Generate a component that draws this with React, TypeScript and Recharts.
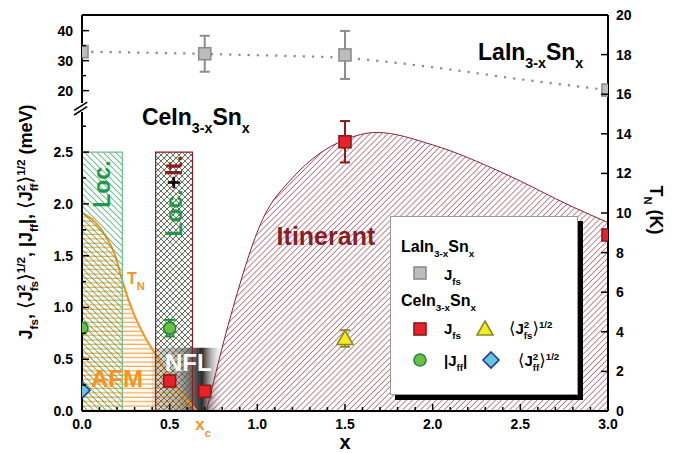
import React from "react";
import {
  ComposedChart,
  XAxis,
  YAxis,
  Scatter,
  Line,
  Area,
  ReferenceArea,
  ReferenceLine,
  ErrorBar,
  Legend,
} from "recharts";

const FONT = "'Liberation Sans', Arial, Helvetica, sans-serif";
const ORANGE = "#f7931e";
const GREEN = "#1f9a4a";
const DARKRED = "#8c1c25";

// LaIn3-xSnx, J_fs (meV) - plotted on the upper (broken) part of the left axis
const laX = [0, 0.7, 1.5, 3.0];
const laJfs = [33.0, 32.3, 31.9, 20.2];
const laErr = [null, 6, 8, null];
const laFitX = [0, 0.5, 1.0, 1.5, 2.0, 2.5, 3.0];
const laFitJ = [33.0, 32.5, 31.8, 30.9, 27.8, 23.8, 20.2];

// CeIn3-xSnx (meV)
const ceJfsX = [0.5, 0.7, 1.5, 3.0];
const ceJfs = [0.29, 0.19, 2.6, 1.7];
const ceJfsErr = [null, null, 0.2, null];
const ceJffX = [0, 0.5];
const ceJff = [0.8, 0.8];
const ceJffErr = [null, 0.08];
const ceJfsRmsX = [1.5];
const ceJfsRms = [0.7];
const ceJfsRmsErr = [0.08];
const ceJffRmsX = [0];
const ceJffRms = [0.2];

// Neel temperature T_N (K, right axis)
const tnX = [0, 0.074, 0.131, 0.188, 0.234, 0.291, 0.359, 0.433, 0.502, 0.576, 0.656];
const tnK = [10.0, 9.55, 8.89, 7.88, 6.46, 5.0, 3.74, 2.68, 1.72, 0.81, 0];

// itinerant region boundary (meV)
const itinX = [0.71, 0.85, 1.03, 1.2, 1.35, 1.5, 1.68, 2.0, 2.4, 2.8, 3.0];
const itinJ = [0, 0.93, 1.85, 2.25, 2.48, 2.62, 2.69, 2.57, 2.3, 1.97, 1.82];

// shaded regions (x ranges, meV tops)
const locRange = [0, 0.23];
const locItRange = [0.42, 0.63];
const regionTop = 2.5;
const nflRange = [0.4, 0.82];
const nflTop = 0.61;
const xcTick = 0.69;

// ticks
const xMajor = [0, 0.5, 1, 1.5, 2, 2.5, 3];
const xMinor = [0.1, 0.2, 0.3, 0.4, 0.6, 0.7, 0.8, 0.9, 1.1, 1.2, 1.3, 1.4, 1.6, 1.7, 1.8, 1.9, 2.1, 2.2, 2.3, 2.4, 2.6, 2.7, 2.8, 2.9];
const lowMajor = [0, 0.5, 1, 1.5, 2, 2.5];
const lowMinor = [0.25, 0.75, 1.25, 1.75, 2.25, 2.75];
const highMajor = [20, 30, 40];
const highMinor = [25, 35];
const tnTicks = [0, 2, 4, 6, 8, 10, 12, 14, 16, 18, 20];

// broken left axis -> shared 0..20 scale of the right axis
const low = (m: number) => m * 5.23;
const high = (u: number) => 16.18 + (u - 20) * 0.1515;
const LOW_END = 15.1;
const HIGH_START = 15.56;

const laData = laX.map((x, i) => ({ x, y: high(laJfs[i]), e: laErr[i] == null ? null : laErr[i]! * 0.1515 }));
const laFit = laFitX.map((x, i) => ({ x, y: high(laFitJ[i]) }));
const jfsData = ceJfsX.map((x, i) => ({ x, y: low(ceJfs[i]), e: ceJfsErr[i] == null ? null : low(ceJfsErr[i]!) }));
const jffData = ceJffX.map((x, i) => ({ x, y: low(ceJff[i]), e: ceJffErr[i] == null ? null : low(ceJffErr[i]!) }));
const jfsRmsData = ceJfsRmsX.map((x, i) => ({ x, y: low(ceJfsRms[i]), e: low(ceJfsRmsErr[i]) }));
const jffRmsData = ceJffRmsX.map((x, i) => ({ x, y: low(ceJffRms[i]) }));
const tnData = tnX.map((x, i) => ({ x, y: tnK[i] }));
const itinData = itinX.map((x, i) => ({ x, y: low(itinJ[i]) }));

const leftTicks = [
  ...lowMajor.map((m) => ({ v: low(m), label: m.toFixed(1), major: true })),
  ...lowMinor.map((m) => ({ v: low(m), label: "", major: false })),
  ...highMajor.map((u) => ({ v: high(u), label: String(u), major: true })),
  ...highMinor.map((u) => ({ v: high(u), label: "", major: false })),
].sort((a, b) => a.v - b.v);

// text anchors for the in-plot labels (x, right-axis units)
const notes = [
  { id: "la", x: 2.259, y: 17.73 },
  { id: "ce", x: 0.342, y: 14.44 },
  { id: "itin", x: 1.11, y: 8.38 },
  { id: "loc", x: 0.16, y: 11.46 },
  { id: "locit", x: 0.57, y: 10.86 },
  { id: "tn", x: 0.257, y: 6.41 },
  { id: "afm", x: 0.051, y: 1.21 },
  { id: "nfl", x: 0.473, y: 2.0 },
];

// plot rectangle inside the 680x445 chart (for clipping markers at the frame)
const PLOT = { x: 74, y: 7, w: 526, h: 396 };

type Seg = { t: string; k?: "sub" | "sup"; back?: number; thin?: boolean; fill?: string };

function Rich({ segs, size, ratio = 0.65 }: { segs: Seg[]; size: number; ratio?: number }) {
  let cur = 0;
  return (
    <>
      {segs.map((s, i) => {
        const target = s.k === "sub" ? size * 0.34 : s.k === "sup" ? -size * 0.4 : 0;
        const dy = target - cur;
        cur = target;
        return (
          <tspan
            key={i}
            dx={s.back ? -s.back : undefined}
            dy={dy !== 0 ? dy : undefined}
            fontSize={s.k ? size * ratio : s.thin ? size * 1.1 : size}
            fontWeight={s.thin ? "normal" : undefined}
            fontFamily={s.thin ? "'DejaVu Sans', sans-serif" : undefined}
            fill={s.fill}
          >
            {s.t}
          </tspan>
        );
      })}
    </>
  );
}

const compound = (el: string): Seg[] => [{ t: el + "In" }, { t: "3-x", k: "sub" }, { t: "Sn" }, { t: "x", k: "sub" }];
const jfs: Seg[] = [{ t: "J" }, { t: "fs", k: "sub" }];
const jff: Seg[] = [{ t: "|J" }, { t: "ff", k: "sub" }, { t: "|" }];
const rms = (sub: string, size: number): Seg[] => [
  { t: "\u27E8", thin: true },
  { t: "J" },
  { t: "2", k: "sup" },
  { t: sub, k: "sub", back: size * 0.65 * 0.556 },
  { t: "\u27E9", thin: true },
  { t: "1/2", k: "sup" },
];

const Sq = ({ cx, cy, fill, stroke }: any) => (
  <rect x={cx - 6} y={cy - 6} width={12} height={12} fill={fill} stroke={stroke} strokeWidth={1.6} />
);
const Circ = ({ cx, cy }: any) => <circle cx={cx} cy={cy} r={6} fill="#6cbf45" stroke="#1f8a3a" strokeWidth={1.6} />;
const Tri = ({ cx, cy }: any) => (
  <polygon points={`${cx},${cy - 8} ${cx + 8},${cy + 6} ${cx - 8},${cy + 6}`} fill="#f4ec1c" stroke="#8a8a2a" strokeWidth={1.6} />
);
const Dia = ({ cx, cy }: any) => (
  <polygon points={`${cx},${cy - 8} ${cx + 8},${cy} ${cx},${cy + 8} ${cx - 8},${cy}`} fill="#62c6dd" stroke="#1f3a8a" strokeWidth={1.6} />
);
const clipped = (el: React.ReactNode) => <g clipPath="url(#plotClip)">{el}</g>;

function NoteShape(p: any) {
  const { cx, cy, payload } = p;
  const base = { fontFamily: FONT, fontWeight: "bold" as const };
  switch (payload.id) {
    case "la":
    case "ce":
      return (
        <text x={cx} y={cy} {...base} fill="#000">
          <Rich segs={compound(payload.id === "la" ? "La" : "Ce")} size={23} ratio={0.62} />
        </text>
      );
    case "itin":
      return (
        <text x={cx} y={cy} {...base} fontSize={25} fill={DARKRED}>
          Itinerant
        </text>
      );
    case "loc":
      return (
        <text x={cx} y={cy} {...base} fontSize={23} fill={GREEN} textAnchor="middle" transform={`rotate(-90 ${cx} ${cy})`}>
          Loc.
        </text>
      );
    case "locit":
      return (
        <text x={cx} y={cy} {...base} fontSize={23} textAnchor="middle" transform={`rotate(-90 ${cx} ${cy})`}>
          <tspan fill={GREEN}>Loc.</tspan>
          <tspan fill="#000">+</tspan>
          <tspan fill={DARKRED}>It.</tspan>
        </text>
      );
    case "tn":
      return (
        <text x={cx} y={cy} {...base} fill={ORANGE}>
          <Rich segs={[{ t: "T" }, { t: "N", k: "sub" }]} size={16} ratio={0.7} />
        </text>
      );
    case "afm":
      return (
        <text x={cx} y={cy} {...base} fontSize={24} fill={ORANGE}>
          AFM
        </text>
      );
    case "nfl":
      return (
        <text x={cx} y={cy} {...base} fontSize={24} fill="#fff">
          NFL
        </text>
      );
    default:
      return null;
  }
}

const near = (a: number, b: number) => Math.abs(a - b) < 1e-6;

function BottomTick(props: any) {
  const { x, y, payload } = props;
  const v = payload.value;
  if (near(v, xcTick)) {
    return (
      <text x={x} y={y + 19} textAnchor="middle" fill={ORANGE} fontFamily={FONT} fontWeight="bold" fontSize={17}>
        x<tspan dy={7} fontSize={11}>c</tspan>
      </text>
    );
  }
  const major = xMajor.some((m) => near(m, v));
  return (
    <g>
      <line x1={x} x2={x} y1={y} y2={y - (major ? 7 : 4)} stroke="#000" strokeWidth={1.5} />
      {major && (
        <text x={x} y={y + 18} textAnchor="middle" fontFamily={FONT} fontWeight="bold" fontSize={14}>
          {v.toFixed(1)}
        </text>
      )}
    </g>
  );
}

function TopTick(props: any) {
  const { x, y, payload } = props;
  const major = xMajor.some((m) => near(m, payload.value));
  return <line x1={x} x2={x} y1={y} y2={y + (major ? 7 : 4)} stroke="#000" strokeWidth={1.5} />;
}

function LeftTick(props: any) {
  const { x, y, payload } = props;
  const t = leftTicks.find((k) => near(k.v, payload.value));
  if (!t) return null;
  return (
    <g>
      <line x1={x} x2={x + (t.major ? 7 : 4)} y1={y} y2={y} stroke="#000" strokeWidth={1.5} />
      {t.label && (
        <text x={x - 9} y={y} dy={5} textAnchor="end" fontFamily={FONT} fontWeight="bold" fontSize={14}>
          {t.label}
        </text>
      )}
    </g>
  );
}

function RightTick(props: any) {
  const { x, y, payload } = props;
  return (
    <g>
      <line x1={x} x2={x - 7} y1={y} y2={y} stroke="#000" strokeWidth={1.5} />
      <text x={x + 8} y={y} dy={5} textAnchor="start" fontFamily={FONT} fontWeight="bold" fontSize={14}>
        {payload.value}
      </text>
    </g>
  );
}

function LegendBox() {
  const t = { fontFamily: FONT, fontWeight: "bold" as const, fill: "#000" };
  return (
    <div
      style={{
        width: 188,
        height: 179,
        boxSizing: "border-box",
        border: "1px solid #9a9a9a",
        background: "#fff",
        boxShadow: "5px 5px 0 #000",
      }}
    >
      <svg width={186} height={177} style={{ display: "block" }}>
        <text x={10} y={35} {...t}>
          <Rich segs={compound("La")} size={16} ratio={0.62} />
        </text>
        <Sq cx={29} cy={56} fill="#bdbdbd" stroke="#8c8c8c" />
        <text x={53} y={63} {...t}>
          <Rich segs={jfs} size={15} />
        </text>
        <text x={10} y={89} {...t}>
          <Rich segs={compound("Ce")} size={16} ratio={0.62} />
        </text>
        <Sq cx={29} cy={112} fill="#e8212b" stroke="#8b1a1a" />
        <text x={53} y={117} {...t}>
          <Rich segs={jfs} size={15} />
        </text>
        <Tri cx={94} cy={112} />
        <text x={118} y={117} {...t}>
          <Rich segs={rms("fs", 15)} size={15} />
        </text>
        <Circ cx={29} cy={143} />
        <text x={53} y={149} {...t}>
          <Rich segs={jff} size={15} />
        </text>
        <Dia cx={100} cy={143} />
        <text x={127} y={149} {...t}>
          <Rich segs={rms("ff", 15)} size={15} />
        </text>
      </svg>
    </div>
  );
}

export default function App() {
  const xTicks = [...xMajor, ...xMinor, xcTick].sort((a, b) => a - b);
  const frame = { stroke: "#000", strokeWidth: 2 };
  return (
    <div style={{ width: 680, height: 445 }}>
      <ComposedChart width={680} height={445} margin={{ top: 0, right: 0, bottom: 0, left: 0 }}>
        <defs>
          <clipPath id="plotClip">
            <rect x={PLOT.x} y={PLOT.y} width={PLOT.w} height={PLOT.h} />
          </clipPath>
          <pattern id="locHatch" patternUnits="userSpaceOnUse" width={4.4} height={4.4} patternTransform="rotate(-45)">
            <line x1={0} y1={0} x2={0} y2={4.4} stroke={GREEN} strokeWidth={1.3} />
          </pattern>
          <pattern id="itinHatch" patternUnits="userSpaceOnUse" width={4.2} height={4.2} patternTransform="rotate(45)">
            <line x1={0} y1={0} x2={0} y2={4.2} stroke="#8c2232" strokeWidth={1.1} />
          </pattern>
          <pattern id="crossHatch" patternUnits="userSpaceOnUse" width={6} height={6}>
            <path d="M0,0 L6,6 M-1,5 L1,7 M5,-1 L7,1" stroke={GREEN} strokeWidth={0.9} />
            <path d="M0,6 L6,0 M-1,1 L1,-1 M5,7 L7,5" stroke="#9a2a3a" strokeWidth={0.9} />
          </pattern>
          <pattern id="afmHatch" patternUnits="userSpaceOnUse" width={6} height={4.4}>
            <line x1={0} y1={2} x2={6} y2={2} stroke={ORANGE} strokeOpacity={0.85} strokeWidth={1.2} />
          </pattern>
          <linearGradient id="nflGrad" x1="0" y1="0" x2="1" y2="0">
            <stop offset="0" stopColor="#d4d4d4" stopOpacity={0.7} />
            <stop offset="0.35" stopColor="#a8a8a8" stopOpacity={0.85} />
            <stop offset="0.55" stopColor="#666" />
            <stop offset="0.68" stopColor="#2a2a2a" />
            <stop offset="0.82" stopColor="#999" stopOpacity={0.6} />
            <stop offset="1" stopColor="#fff" stopOpacity={0} />
          </linearGradient>
        </defs>

        <XAxis
          dataKey="x"
          type="number"
          domain={[0, 3]}
          allowDataOverflow
          ticks={xTicks}
          interval={0}
          tickSize={0}
          tickMargin={0}
          tick={<BottomTick />}
          axisLine={frame}
          height={42}
          label={{
            content: (p: any) => (
              <text
                x={p.viewBox.x + p.viewBox.width / 2}
                y={p.viewBox.y + 38}
                textAnchor="middle"
                fontFamily={FONT}
                fontWeight="bold"
                fontSize={20}
              >
                x
              </text>
            ),
          }}
        />
        <XAxis
          xAxisId="top"
          orientation="top"
          type="number"
          domain={[0, 3]}
          ticks={xTicks.filter((v) => !near(v, xcTick))}
          interval={0}
          tickSize={0}
          tickMargin={0}
          tick={<TopTick />}
          axisLine={frame}
          height={7}
        />
        <YAxis
          yAxisId="left"
          dataKey="y"
          type="number"
          domain={[0, 20]}
          ticks={leftTicks.map((t) => t.v)}
          interval={0}
          tickSize={0}
          tickMargin={0}
          tick={<LeftTick />}
          axisLine={false}
          width={74}
          label={{
            content: (p: any) => {
              const cx = 24;
              const cy = p.viewBox.y + p.viewBox.height / 2 + 9;
              return (
                <text x={cx} y={cy} textAnchor="middle" transform={`rotate(-90 ${cx} ${cy})`} fontFamily={FONT} fontWeight="bold">
                  <Rich
                    size={18}
                    segs={[
                      ...jfs,
                      { t: ", " },
                      ...rms("fs", 18),
                      { t: ", " },
                      ...jff,
                      { t: ", " },
                      ...rms("ff", 18),
                      { t: " (meV)" },
                    ]}
                  />
                </text>
              );
            },
          }}
        />
        <YAxis
          yAxisId="right"
          orientation="right"
          dataKey="y"
          type="number"
          domain={[0, 20]}
          ticks={tnTicks}
          interval={0}
          tickSize={0}
          tickMargin={0}
          tick={<RightTick />}
          axisLine={frame}
          width={80}
          label={{
            content: (p: any) => {
              const cx = p.viewBox.x + 42;
              const cy = p.viewBox.y + p.viewBox.height / 2 - 3;
              return (
                <text x={cx} y={cy} textAnchor="middle" transform={`rotate(90 ${cx} ${cy})`} fontFamily={FONT} fontWeight="bold">
                  <Rich size={18} ratio={0.62} segs={[{ t: "T" }, { t: "N", k: "sub" }, { t: " (K)" }]} />
                </text>
              );
            },
          }}
        />

        <ReferenceArea
          yAxisId="left"
          x1={nflRange[0]}
          x2={nflRange[1]}
          y1={0}
          y2={low(nflTop)}
          fill="url(#nflGrad)"
          fillOpacity={1}
          stroke="none"
        />
        <Area
          yAxisId="right"
          data={tnData}
          dataKey="y"
          type="monotone"
          fill="url(#afmHatch)"
          fillOpacity={1}
          stroke={ORANGE}
          strokeWidth={2}
          isAnimationActive={false}
        />
        <ReferenceArea
          yAxisId="left"
          x1={locRange[0]}
          x2={locRange[1]}
          y1={0}
          y2={low(regionTop)}
          fill="url(#locHatch)"
          fillOpacity={1}
          stroke="#6cbf8a"
          strokeWidth={1.2}
        />
        <ReferenceArea
          yAxisId="left"
          x1={locItRange[0]}
          x2={locItRange[1]}
          y1={0}
          y2={low(regionTop)}
          fill="url(#crossHatch)"
          fillOpacity={1}
          stroke={DARKRED}
          strokeWidth={1.2}
        />
        <Area
          yAxisId="left"
          data={itinData}
          dataKey="y"
          type="monotone"
          fill="url(#itinHatch)"
          fillOpacity={1}
          stroke="#8c2030"
          strokeWidth={1}
          isAnimationActive={false}
        />
        <Line
          yAxisId="left"
          data={laFit}
          dataKey="y"
          type="monotone"
          stroke="#8a8a8a"
          strokeWidth={2.2}
          strokeDasharray="2.2 7"
          dot={false}
          activeDot={false}
          isAnimationActive={false}
        />

        <Scatter yAxisId="left" data={laData} dataKey="y" isAnimationActive={false} shape={(p: any) => clipped(<Sq cx={p.cx} cy={p.cy} fill="#bdbdbd" stroke="#8c8c8c" />)}>
          <ErrorBar dataKey="e" direction="y" width={5} stroke="#8c8c8c" strokeWidth={2} />
        </Scatter>
        <Scatter yAxisId="left" data={jfsData} dataKey="y" isAnimationActive={false} shape={(p: any) => clipped(<Sq cx={p.cx} cy={p.cy} fill="#e8212b" stroke="#8b1a1a" />)}>
          <ErrorBar dataKey="e" direction="y" width={5} stroke="#8b1a1a" strokeWidth={2} />
        </Scatter>
        <Scatter yAxisId="left" data={jffData} dataKey="y" isAnimationActive={false} shape={(p: any) => clipped(<Circ cx={p.cx} cy={p.cy} />)}>
          <ErrorBar dataKey="e" direction="y" width={5} stroke="#1f8a3a" strokeWidth={2} />
        </Scatter>
        <Scatter yAxisId="left" data={jfsRmsData} dataKey="y" isAnimationActive={false} shape={(p: any) => clipped(<Tri cx={p.cx} cy={p.cy} />)}>
          <ErrorBar dataKey="e" direction="y" width={5} stroke="#8a8a2a" strokeWidth={2} />
        </Scatter>
        <Scatter yAxisId="left" data={jffRmsData} dataKey="y" isAnimationActive={false} shape={(p: any) => clipped(<Dia cx={p.cx} cy={p.cy} />)} />

        <Scatter yAxisId="left" data={notes} dataKey="y" isAnimationActive={false} shape={(p: any) => <NoteShape {...p} />} />

        <ReferenceLine yAxisId="left" segment={[{ x: 0, y: 0 }, { x: 0, y: LOW_END }]} ifOverflow="visible" {...frame} />
        <ReferenceLine yAxisId="left" segment={[{ x: 0, y: HIGH_START }, { x: 0, y: 20 }]} ifOverflow="visible" {...frame} />
        <ReferenceLine yAxisId="left" segment={[{ x: -0.045, y: 14.95 }, { x: 0.03, y: 15.37 }]} ifOverflow="visible" stroke="#000" strokeWidth={1.6} />
        <ReferenceLine yAxisId="left" segment={[{ x: -0.045, y: 15.18 }, { x: 0.03, y: 15.6 }]} ifOverflow="visible" stroke="#000" strokeWidth={1.6} />

        <Legend
          layout="vertical"
          align="center"
          verticalAlign="middle"
          wrapperStyle={{ left: 382, top: 208, width: 188, height: 179 }}
          content={() => <LegendBox />}
        />
      </ComposedChart>
    </div>
  );
}
